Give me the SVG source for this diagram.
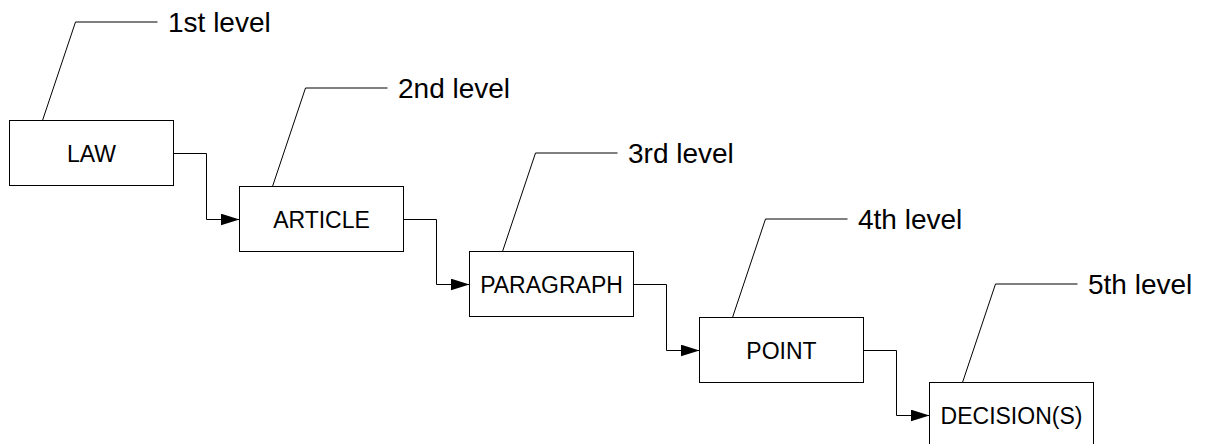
<svg xmlns="http://www.w3.org/2000/svg" width="1208" height="444" viewBox="0 0 1208 444">
<style>
.box{fill:#fff;stroke:#000;stroke-width:1}
.lbl{font-family:"Liberation Sans",Arial,sans-serif;font-size:23px;fill:#000;text-anchor:middle}
.lvl{font-family:"Liberation Sans",Arial,sans-serif;font-size:28px;fill:#000}
.call{fill:none;stroke:#000;stroke-width:1}
.conn{fill:none;stroke:#000;stroke-width:1}
</style>
<defs>
<marker id="arr" markerUnits="userSpaceOnUse" markerWidth="19" markerHeight="12" refX="19" refY="6" orient="auto">
<path d="M0,0 L19,6 L0,12 z" fill="#000"/>
</marker>
</defs>
<rect width="1208" height="444" fill="#fff"/>
<g id="connectors">
<path class="conn" d="M173.5,153.5 H206.5 V219.5 H239.5" marker-end="url(#arr)"/>
<path class="conn" d="M403.5,219.5 H436.5 V284.5 H469.5" marker-end="url(#arr)"/>
<path class="conn" d="M633.5,284.5 H666.5 V350.5 H699.5" marker-end="url(#arr)"/>
<path class="conn" d="M863.5,350.5 H896.5 V415.5 H929.5" marker-end="url(#arr)"/>
</g>
<g id="law">
<rect class="box" x="9.5" y="120.5" width="164" height="65"/>
<text class="lbl" x="91.5" y="161.5">LAW</text>
<path class="call" d="M42.5,120.5 L75.5,22 H157.5"/>
<text class="lvl" x="168" y="31.5">1st level</text>
</g>
<g id="article">
<rect class="box" x="239.5" y="186.5" width="164" height="65"/>
<text class="lbl" x="321.5" y="227.5">ARTICLE</text>
<path class="call" d="M272.5,186.5 L305.5,88 H387.5"/>
<text class="lvl" x="398" y="97.5">2nd level</text>
</g>
<g id="paragraph">
<rect class="box" x="469.5" y="251.5" width="164" height="65"/>
<text class="lbl" x="551.5" y="292.5">PARAGRAPH</text>
<path class="call" d="M502.5,251.5 L535.5,153 H617.5"/>
<text class="lvl" x="628" y="162.5">3rd level</text>
</g>
<g id="point">
<rect class="box" x="699.5" y="317.5" width="164" height="65"/>
<text class="lbl" x="781.5" y="358.5">POINT</text>
<path class="call" d="M732.5,317.5 L765.5,219 H847.5"/>
<text class="lvl" x="858" y="228.5">4th level</text>
</g>
<g id="decision">
<rect class="box" x="929.5" y="382.5" width="164" height="65"/>
<text class="lbl" x="1011.5" y="423.5">DECISION(S)</text>
<path class="call" d="M962.5,382.5 L995.5,284 H1077.5"/>
<text class="lvl" x="1088" y="293.5">5th level</text>
</g>
</svg>
